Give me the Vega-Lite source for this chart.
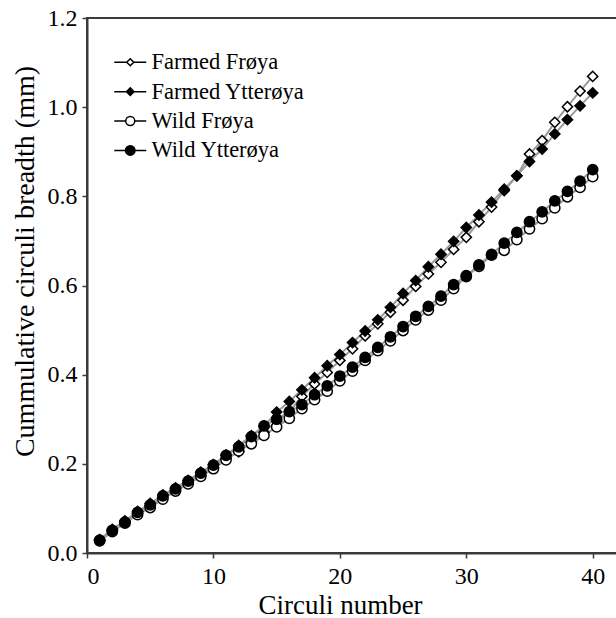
{
  "$schema": "https://vega.github.io/schema/vega-lite/v6.json",
  "autosize": {"type": "none"},
  "padding": {"left": 87, "top": 18, "right": 0, "bottom": 65},
  "width": 531,
  "height": 535,
  "background": "white",
  "config": {
    "font": "Liberation Serif",
    "view": {"stroke": "#3a3a3a", "strokeWidth": 2},
    "axis": {
      "grid": false,
      "domainColor": "#3a3a3a",
      "domainWidth": 2,
      "tickColor": "#3a3a3a",
      "tickWidth": 1.5,
      "tickSize": 5,
      "labelFont": "Liberation Serif",
      "labelFontSize": 24,
      "labelColor": "black",
      "titleFont": "Liberation Serif",
      "titleFontWeight": "normal",
      "titleColor": "black"
    }
  },
  "data": {
    "values": [
      {"n":1,"s":"Farmed Frøya","v":0.028},{"n":2,"s":"Farmed Frøya","v":0.050},{"n":3,"s":"Farmed Frøya","v":0.069},{"n":4,"s":"Farmed Frøya","v":0.089},{"n":5,"s":"Farmed Frøya","v":0.106},{"n":6,"s":"Farmed Frøya","v":0.124},{"n":7,"s":"Farmed Frøya","v":0.141},{"n":8,"s":"Farmed Frøya","v":0.157},{"n":9,"s":"Farmed Frøya","v":0.174},{"n":10,"s":"Farmed Frøya","v":0.192},
      {"n":11,"s":"Farmed Frøya","v":0.212},{"n":12,"s":"Farmed Frøya","v":0.227},{"n":13,"s":"Farmed Frøya","v":0.249},{"n":14,"s":"Farmed Frøya","v":0.271},{"n":15,"s":"Farmed Frøya","v":0.296},{"n":16,"s":"Farmed Frøya","v":0.317},{"n":17,"s":"Farmed Frøya","v":0.351},{"n":18,"s":"Farmed Frøya","v":0.379},{"n":19,"s":"Farmed Frøya","v":0.405},{"n":20,"s":"Farmed Frøya","v":0.432},
      {"n":21,"s":"Farmed Frøya","v":0.458},{"n":22,"s":"Farmed Frøya","v":0.487},{"n":23,"s":"Farmed Frøya","v":0.514},{"n":24,"s":"Farmed Frøya","v":0.540},{"n":25,"s":"Farmed Frøya","v":0.567},{"n":26,"s":"Farmed Frøya","v":0.598},{"n":27,"s":"Farmed Frøya","v":0.626},{"n":28,"s":"Farmed Frøya","v":0.652},{"n":29,"s":"Farmed Frøya","v":0.681},{"n":30,"s":"Farmed Frøya","v":0.708},
      {"n":31,"s":"Farmed Frøya","v":0.743},{"n":32,"s":"Farmed Frøya","v":0.776},{"n":33,"s":"Farmed Frøya","v":0.813},{"n":34,"s":"Farmed Frøya","v":0.846},{"n":35,"s":"Farmed Frøya","v":0.895},{"n":36,"s":"Farmed Frøya","v":0.925},{"n":37,"s":"Farmed Frøya","v":0.966},{"n":38,"s":"Farmed Frøya","v":1.001},{"n":39,"s":"Farmed Frøya","v":1.036},{"n":40,"s":"Farmed Frøya","v":1.069},

      {"n":1,"s":"Farmed Ytterøya","v":0.030},{"n":2,"s":"Farmed Ytterøya","v":0.053},{"n":3,"s":"Farmed Ytterøya","v":0.072},{"n":4,"s":"Farmed Ytterøya","v":0.093},{"n":5,"s":"Farmed Ytterøya","v":0.111},{"n":6,"s":"Farmed Ytterøya","v":0.130},{"n":7,"s":"Farmed Ytterøya","v":0.146},{"n":8,"s":"Farmed Ytterøya","v":0.163},{"n":9,"s":"Farmed Ytterøya","v":0.181},{"n":10,"s":"Farmed Ytterøya","v":0.198},
      {"n":11,"s":"Farmed Ytterøya","v":0.220},{"n":12,"s":"Farmed Ytterøya","v":0.241},{"n":13,"s":"Farmed Ytterøya","v":0.263},{"n":14,"s":"Farmed Ytterøya","v":0.285},{"n":15,"s":"Farmed Ytterøya","v":0.316},{"n":16,"s":"Farmed Ytterøya","v":0.340},{"n":17,"s":"Farmed Ytterøya","v":0.366},{"n":18,"s":"Farmed Ytterøya","v":0.393},{"n":19,"s":"Farmed Ytterøya","v":0.420},{"n":20,"s":"Farmed Ytterøya","v":0.445},
      {"n":21,"s":"Farmed Ytterøya","v":0.472},{"n":22,"s":"Farmed Ytterøya","v":0.498},{"n":23,"s":"Farmed Ytterøya","v":0.523},{"n":24,"s":"Farmed Ytterøya","v":0.551},{"n":25,"s":"Farmed Ytterøya","v":0.582},{"n":26,"s":"Farmed Ytterøya","v":0.611},{"n":27,"s":"Farmed Ytterøya","v":0.642},{"n":28,"s":"Farmed Ytterøya","v":0.670},{"n":29,"s":"Farmed Ytterøya","v":0.699},{"n":30,"s":"Farmed Ytterøya","v":0.730},
      {"n":31,"s":"Farmed Ytterøya","v":0.758},{"n":32,"s":"Farmed Ytterøya","v":0.787},{"n":33,"s":"Farmed Ytterøya","v":0.816},{"n":34,"s":"Farmed Ytterøya","v":0.846},{"n":35,"s":"Farmed Ytterøya","v":0.878},{"n":36,"s":"Farmed Ytterøya","v":0.906},{"n":37,"s":"Farmed Ytterøya","v":0.940},{"n":38,"s":"Farmed Ytterøya","v":0.972},{"n":39,"s":"Farmed Ytterøya","v":1.003},{"n":40,"s":"Farmed Ytterøya","v":1.032},

      {"n":1,"s":"Wild Frøya","v":0.027},{"n":2,"s":"Wild Frøya","v":0.048},{"n":3,"s":"Wild Frøya","v":0.067},{"n":4,"s":"Wild Frøya","v":0.086},{"n":5,"s":"Wild Frøya","v":0.102},{"n":6,"s":"Wild Frøya","v":0.121},{"n":7,"s":"Wild Frøya","v":0.139},{"n":8,"s":"Wild Frøya","v":0.155},{"n":9,"s":"Wild Frøya","v":0.172},{"n":10,"s":"Wild Frøya","v":0.189},
      {"n":11,"s":"Wild Frøya","v":0.209},{"n":12,"s":"Wild Frøya","v":0.229},{"n":13,"s":"Wild Frøya","v":0.245},{"n":14,"s":"Wild Frøya","v":0.264},{"n":15,"s":"Wild Frøya","v":0.283},{"n":16,"s":"Wild Frøya","v":0.302},{"n":17,"s":"Wild Frøya","v":0.324},{"n":18,"s":"Wild Frøya","v":0.344},{"n":19,"s":"Wild Frøya","v":0.363},{"n":20,"s":"Wild Frøya","v":0.386},
      {"n":21,"s":"Wild Frøya","v":0.408},{"n":22,"s":"Wild Frøya","v":0.432},{"n":23,"s":"Wild Frøya","v":0.454},{"n":24,"s":"Wild Frøya","v":0.476},{"n":25,"s":"Wild Frøya","v":0.499},{"n":26,"s":"Wild Frøya","v":0.523},{"n":27,"s":"Wild Frøya","v":0.545},{"n":28,"s":"Wild Frøya","v":0.567},{"n":29,"s":"Wild Frøya","v":0.593},{"n":30,"s":"Wild Frøya","v":0.620},
      {"n":31,"s":"Wild Frøya","v":0.643},{"n":32,"s":"Wild Frøya","v":0.668},{"n":33,"s":"Wild Frøya","v":0.679},{"n":34,"s":"Wild Frøya","v":0.703},{"n":35,"s":"Wild Frøya","v":0.727},{"n":36,"s":"Wild Frøya","v":0.750},{"n":37,"s":"Wild Frøya","v":0.774},{"n":38,"s":"Wild Frøya","v":0.799},{"n":39,"s":"Wild Frøya","v":0.820},{"n":40,"s":"Wild Frøya","v":0.844},

      {"n":1,"s":"Wild Ytterøya","v":0.029},{"n":2,"s":"Wild Ytterøya","v":0.051},{"n":3,"s":"Wild Ytterøya","v":0.069},{"n":4,"s":"Wild Ytterøya","v":0.091},{"n":5,"s":"Wild Ytterøya","v":0.108},{"n":6,"s":"Wild Ytterøya","v":0.128},{"n":7,"s":"Wild Ytterøya","v":0.144},{"n":8,"s":"Wild Ytterøya","v":0.161},{"n":9,"s":"Wild Ytterøya","v":0.179},{"n":10,"s":"Wild Ytterøya","v":0.197},
      {"n":11,"s":"Wild Ytterøya","v":0.219},{"n":12,"s":"Wild Ytterøya","v":0.238},{"n":13,"s":"Wild Ytterøya","v":0.261},{"n":14,"s":"Wild Ytterøya","v":0.285},{"n":15,"s":"Wild Ytterøya","v":0.300},{"n":16,"s":"Wild Ytterøya","v":0.317},{"n":17,"s":"Wild Ytterøya","v":0.333},{"n":18,"s":"Wild Ytterøya","v":0.355},{"n":19,"s":"Wild Ytterøya","v":0.375},{"n":20,"s":"Wild Ytterøya","v":0.397},
      {"n":21,"s":"Wild Ytterøya","v":0.417},{"n":22,"s":"Wild Ytterøya","v":0.439},{"n":23,"s":"Wild Ytterøya","v":0.461},{"n":24,"s":"Wild Ytterøya","v":0.485},{"n":25,"s":"Wild Ytterøya","v":0.508},{"n":26,"s":"Wild Ytterøya","v":0.531},{"n":27,"s":"Wild Ytterøya","v":0.553},{"n":28,"s":"Wild Ytterøya","v":0.576},{"n":29,"s":"Wild Ytterøya","v":0.602},{"n":30,"s":"Wild Ytterøya","v":0.622},
      {"n":31,"s":"Wild Ytterøya","v":0.646},{"n":32,"s":"Wild Ytterøya","v":0.670},{"n":33,"s":"Wild Ytterøya","v":0.695},{"n":34,"s":"Wild Ytterøya","v":0.719},{"n":35,"s":"Wild Ytterøya","v":0.743},{"n":36,"s":"Wild Ytterøya","v":0.765},{"n":37,"s":"Wild Ytterøya","v":0.790},{"n":38,"s":"Wild Ytterøya","v":0.811},{"n":39,"s":"Wild Ytterøya","v":0.834},{"n":40,"s":"Wild Ytterøya","v":0.860}
    ]
  },
  "encoding": {
    "x": {
      "field": "n", "type": "quantitative",
      "scale": {"domain": [0, 42], "nice": false, "zero": false},
      "axis": {"values": [0, 10, 20, 30, 40], "title": "Circuli number", "titleFontSize": 27, "labelPadding": 6, "titlePadding": 4, "titleX": 253}
    },
    "y": {
      "field": "v", "type": "quantitative",
      "scale": {"domain": [0, 1.2], "nice": false},
      "axis": {"values": [0, 0.2, 0.4, 0.6, 0.8, 1.0, 1.2], "format": ".1f", "title": "Cummulative circuli breadth (mm)", "titleFontSize": 28, "labelPadding": 5, "titlePadding": 8, "titleY": 243}
    }
  },
  "layer": [
    {
      "mark": {"type": "line", "color": "#9a9a9a", "strokeWidth": 2},
      "encoding": {"detail": {"field": "s"}}
    },
    {
      "mark": {"type": "point", "filled": false, "stroke": "black", "strokeWidth": 1.5, "size": 105, "opacity": 1},
      "encoding": {
        "fill": {
          "field": "s", "type": "nominal",
          "scale": {"domain": ["Farmed Frøya", "Farmed Ytterøya", "Wild Frøya", "Wild Ytterøya"], "range": ["white", "black", "white", "black"]},
          "legend": null
        },
        "shape": {
          "field": "s", "type": "nominal",
          "scale": {"domain": ["Farmed Frøya", "Farmed Ytterøya", "Wild Frøya", "Wild Ytterøya"], "range": ["diamond", "diamond", "circle", "circle"]},
          "legend": null
        }
      }
    },
    {
      "transform": [{"filter": "datum.n < 0"}],
      "mark": {"type": "point", "filled": false, "strokeWidth": 1.5, "opacity": 1},
      "encoding": {
        "shape": {
          "field": "s", "type": "nominal",
          "scale": {"domain": ["Farmed Frøya", "Farmed Ytterøya", "Wild Frøya", "Wild Ytterøya"], "range": [
            "M-1.6,0H-0.35M0.35,0H1.6M0,-0.35L0.35,0L0,0.35L-0.35,0Z",
            "M-1.6,0H-0.38M0.38,0H1.6M0,-0.38L0.38,0L0,0.38L-0.38,0Z",
            "M-1.6,0H-0.45M0.45,0H1.6M0.45,0C0.45,0.25,0.25,0.45,0,0.45C-0.25,0.45,-0.45,0.25,-0.45,0C-0.45,-0.25,-0.25,-0.45,0,-0.45C0.25,-0.45,0.45,-0.25,0.45,0Z",
            "M-1.6,0H-0.47M0.47,0H1.6M0.47,0C0.47,0.26,0.26,0.47,0,0.47C-0.26,0.47,-0.47,0.26,-0.47,0C-0.47,-0.26,-0.26,-0.47,0,-0.47C0.26,-0.47,0.47,-0.26,0.47,0Z"
          ]},
          "legend": {
            "title": null,
            "orient": "none",
            "legendX": 32,
            "legendY": 33,
            "padding": 0,
            "symbolSize": 400,
            "symbolStrokeWidth": 1.5,
            "labelFont": "Liberation Serif",
            "labelFontSize": 22.5,
            "labelColor": "black",
            "labelOffset": 10,
            "rowPadding": 6.4
          }
        },
        "fill": {
          "field": "s", "type": "nominal",
          "scale": {"domain": ["Farmed Frøya", "Farmed Ytterøya", "Wild Frøya", "Wild Ytterøya"], "range": ["white", "black", "white", "black"]}
        },
        "stroke": {
          "field": "s", "type": "nominal",
          "scale": {"domain": ["Farmed Frøya", "Farmed Ytterøya", "Wild Frøya", "Wild Ytterøya"], "range": ["black", "black", "black", "black"]}
        }
      }
    }
  ],
  "resolve": {"scale": {"shape": "independent", "fill": "independent", "stroke": "independent"}}
}
